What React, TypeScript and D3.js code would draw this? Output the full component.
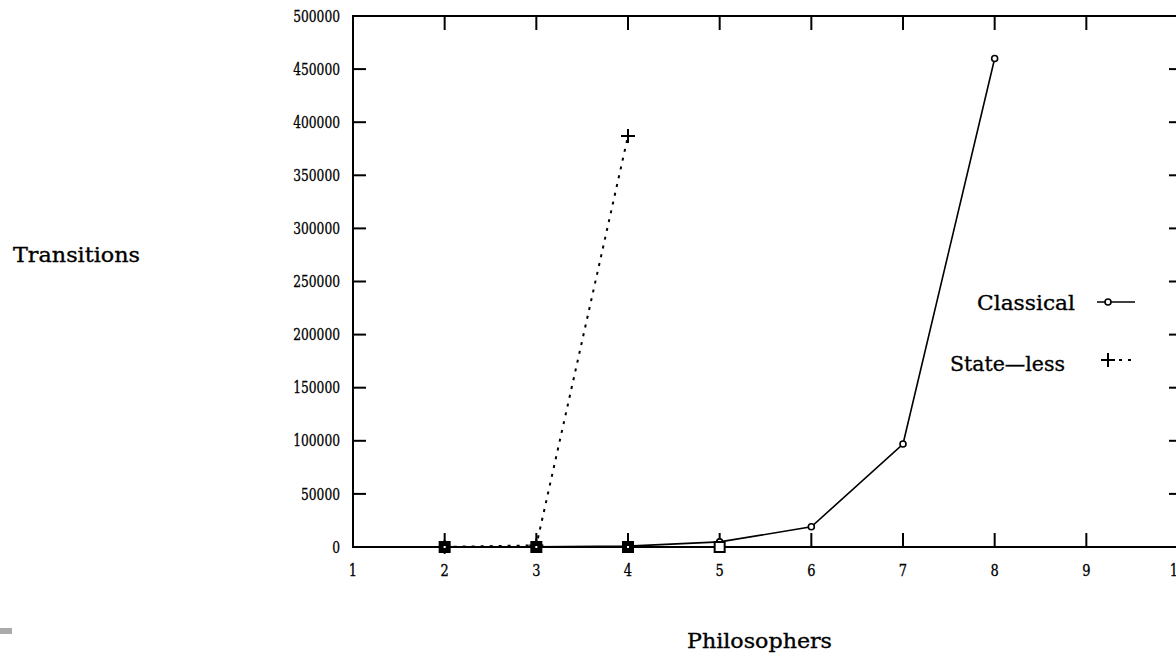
import React from "react";
import * as d3 from "d3";

const philosophers = [2, 3, 4, 5, 6, 7, 8];
const classical = [10, 100, 800, 4800, 19000, 97000, 460000];
const statelessX = [2, 3, 4];
const stateless = [100, 1500, 387000];
const boxX = [2, 3, 4, 5];
const boxY = [0, 0, 0, 0];
const xTicks = [1, 2, 3, 4, 5, 6, 7, 8, 9, 10];
const yTicks = [0, 50000, 100000, 150000, 200000, 250000, 300000, 350000, 400000, 450000, 500000];

const W = 1176;
const H = 656;
const FONT = "'DejaVu Serif', 'Liberation Serif', serif";

export default function App() {
  const x = d3.scaleLinear().domain([1, 10]).range([353, 1178]);
  const y = d3.scaleLinear().domain([0, 500000]).range([547, 16]);
  const left = x(1), right = x(10), top = y(500000), bottom = y(0);

  const classicalPts: [number, number][] = philosophers.map((p, i) => [p, classical[i]]);
  const statelessPts: [number, number][] = statelessX.map((p, i) => [p, stateless[i]]);
  const line = d3.line<[number, number]>().x((d) => x(d[0])).y((d) => y(d[1]));

  const txt = (s: string, tx: number, ty: number, anchor: string, size: number, sy: number, len?: number) => (
    <text
      transform={`translate(${tx},${ty}) scale(1,${sy})`}
      textAnchor={anchor}
      dominantBaseline="central"
      fontFamily={FONT}
      fontSize={size}
      fill="#000"
      stroke="#000"
      strokeWidth={0.25}
      textLength={len}
      lengthAdjust={len ? "spacingAndGlyphs" : undefined}
    >
      {s}
    </text>
  );

  return (
    <svg width={W} height={H} style={{ position: "absolute", left: 0, top: 0, background: "#fff" }}>
      <rect x={0} y={0} width={W} height={H} fill="#fff" />
      {/* gray artifact bottom-left */}
      <rect x={0} y={628} width={12} height={6} fill="#aaa" />

      {/* frame */}
      <rect x={left} y={top} width={right - left} height={bottom - top} fill="none" stroke="#000" strokeWidth={2} />

      {/* y ticks */}
      {yTicks.map((t) => (
        <g key={"y" + t}>
          {t !== 0 && t !== 500000 && (
            <>
              <line x1={left} x2={left + 13} y1={y(t)} y2={y(t)} stroke="#000" strokeWidth={2} />
              <line x1={right} x2={right - 9} y1={y(t)} y2={y(t)} stroke="#000" strokeWidth={2} />
            </>
          )}
          {txt(String(t), 340, y(t), "end", 13, 1.35, String(t).length * 7.8)}
        </g>
      ))}

      {/* x ticks */}
      {xTicks.map((t) => (
        <g key={"x" + t}>
          {t !== 1 && t !== 10 && (
            <>
              <line x1={x(t)} x2={x(t)} y1={bottom} y2={bottom - 14} stroke="#000" strokeWidth={2} />
              <line x1={x(t)} x2={x(t)} y1={top} y2={top + 14} stroke="#000" strokeWidth={2} />
            </>
          )}
          {txt(String(t), x(t), 570, "middle", 13, 1.35)}
        </g>
      ))}

      {/* axis labels */}
      {txt("Transitions", 13, 255, "start", 15, 1.3, 127)}
      {txt("Philosophers", 687, 641, "start", 15, 1.3, 145)}

      {/* Classical series */}
      <path d={line(classicalPts) || ""} fill="none" stroke="#000" strokeWidth={1.6} />
      {classicalPts.map((d, i) => (
        <circle key={"c" + i} cx={x(d[0])} cy={y(d[1])} r={3} fill="#fff" stroke="#000" strokeWidth={1.6} />
      ))}

      {/* State-less series */}
      <path d={line(statelessPts) || ""} fill="none" stroke="#000" strokeWidth={2} strokeDasharray="3,6" />
      {statelessPts.map((d, i) => (
        <g key={"s" + i} transform={`translate(${x(d[0])},${y(d[1])})`}>
          <line x1={-7} x2={7} y1={0} y2={0} stroke="#000" strokeWidth={2} />
          <line x1={0} x2={0} y1={-7} y2={7} stroke="#000" strokeWidth={2} />
        </g>
      ))}

      {/* box markers */}
      {boxX.map((b, i) => (
        <g key={"b" + i} transform={`translate(${x(b)},${y(boxY[i])})`}>
          <rect x={-5} y={-5} width={10} height={10} fill={i < 3 ? "#000" : "#fff"} stroke="#000" strokeWidth={2} />
          {i < 3 && <rect x={-1} y={-1} width={2} height={2} fill="#fff" />}
        </g>
      ))}

      {/* legend */}
      {txt("Classical", 1075, 303, "end", 15, 1.3, 98)}
      <line x1={1097} x2={1135} y1={302} y2={302} stroke="#000" strokeWidth={1.6} />
      <circle cx={1108} cy={302} r={3} fill="#fff" stroke="#000" strokeWidth={1.6} />

      {txt("State\u2014less", 1065, 364, "end", 15, 1.3, 115)}
      <line x1={1101} x2={1133} y1={360} y2={360} stroke="#000" strokeWidth={2} strokeDasharray="3,6" />
      <line x1={1101} x2={1115} y1={360} y2={360} stroke="#000" strokeWidth={2} />
      <line x1={1108} x2={1108} y1={353} y2={367} stroke="#000" strokeWidth={2} />
    </svg>
  );
}
